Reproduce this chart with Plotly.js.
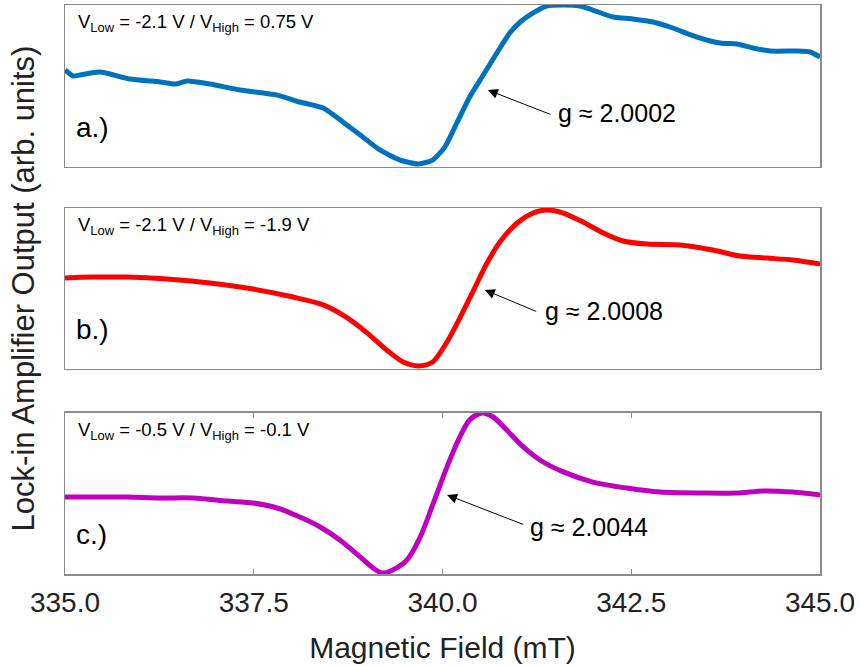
<!DOCTYPE html>
<html>
<head>
<meta charset="utf-8">
<script src="https://cdn.plot.ly/plotly-3.0.1.min.js"></script>
<style>html,body{margin:0;padding:0;background:#fff;}#chart{width:860px;height:666px;}</style>
</head>
<body>
<div id="chart"></div>
<script>
// Magnetic field (mT) and lock-in output (arb. units) for each panel
const fieldA = [335.00,335.11,335.20,335.46,335.86,336.26,336.46,336.62,336.92,337.32,337.81,338.11,338.42,338.68,338.91,339.17,339.44,339.68,339.87,340.03,340.19,340.36,340.54,340.72,340.89,341.03,341.20,341.38,341.60,341.82,341.99,342.26,342.52,342.79,343.05,343.37,343.68,343.90,344.11,344.34,344.70,344.87,345.00];
const signalA = [0.599,0.562,0.568,0.586,0.543,0.525,0.512,0.531,0.512,0.475,0.444,0.401,0.364,0.278,0.198,0.105,0.043,0.019,0.043,0.123,0.272,0.432,0.568,0.704,0.827,0.895,0.951,0.994,1.000,0.994,0.969,0.926,0.914,0.895,0.858,0.802,0.765,0.759,0.735,0.716,0.716,0.710,0.679];

const fieldB = [335.00,335.37,335.82,336.35,336.92,337.49,338.02,338.42,338.74,339.00,339.26,339.48,339.68,339.87,340.06,340.23,340.40,340.59,340.76,340.99,341.20,341.38,341.60,341.86,342.13,342.39,342.71,343.15,343.58,343.94,344.30,344.64,345.00];
const signalB = [0.565,0.571,0.571,0.559,0.534,0.497,0.447,0.398,0.317,0.224,0.118,0.043,0.019,0.043,0.168,0.317,0.478,0.658,0.789,0.907,0.969,0.988,0.969,0.913,0.845,0.795,0.776,0.770,0.739,0.702,0.689,0.677,0.652];

const fieldC = [335.00,335.37,335.82,336.26,336.70,337.15,337.49,337.81,338.11,338.38,338.64,338.91,339.08,339.20,339.34,339.53,339.70,339.87,340.06,340.23,340.36,340.52,340.67,340.85,341.07,341.29,341.60,341.99,342.44,342.88,343.45,343.90,344.25,344.64,345.00];
const signalC = [0.478,0.478,0.478,0.472,0.472,0.453,0.441,0.410,0.354,0.292,0.211,0.106,0.037,0.006,0.025,0.087,0.224,0.429,0.665,0.851,0.957,1.000,0.975,0.894,0.789,0.708,0.634,0.571,0.534,0.509,0.503,0.503,0.516,0.509,0.491];

const tickVals = [335.0, 337.5, 340.0, 342.5, 345.0];
const tickText = ['335.0', '337.5', '340.0', '342.5', '345.0'];
const panelLabels = ['a.)', 'b.)', 'c.)'];
const voltageLabels = [
  'V<sub>Low</sub> = -2.1 V / V<sub>High</sub> = 0.75 V',
  'V<sub>Low</sub> = -2.1 V / V<sub>High</sub> = -1.9 V',
  'V<sub>Low</sub> = -0.5 V / V<sub>High</sub> = -0.1 V'
];
const gLabels = ['g \u2248 2.0002', 'g \u2248 2.0008', 'g \u2248 2.0044'];

const FONT = 'Liberation Sans, Arial, sans-serif';
const frame = '#8a8a8a';

const traces = [
  {x: fieldA, y: signalA, xaxis: 'x2', yaxis: 'y2', mode: 'lines', line: {color: '#0072BD', width: 5, shape: 'spline', smoothing: 0.6}, hoverinfo: 'skip'},
  {x: fieldB, y: signalB, xaxis: 'x3', yaxis: 'y3', mode: 'lines', line: {color: '#FF0000', width: 5, shape: 'spline', smoothing: 0.8}, hoverinfo: 'skip'},
  {x: fieldC, y: signalC, xaxis: 'x', yaxis: 'y', mode: 'lines', line: {color: '#BF00BF', width: 5, shape: 'spline', smoothing: 0.8}, hoverinfo: 'skip'}
];

const hiddenX = {range: [335, 345], showticklabels: false, ticks: '', showline: true, mirror: true, linecolor: frame, linewidth: 1.5, showgrid: false, zeroline: false, fixedrange: true};
const hiddenY = {range: [0, 1], showticklabels: false, ticks: '', showline: true, mirror: true, linecolor: frame, linewidth: 1.5, showgrid: false, zeroline: false, fixedrange: true};

const annotations = [];
const yRefs = ['y2', 'y3', 'y'];
const xRefs = ['x2', 'x3', 'x'];
yRefs.forEach((yr, i) => {
  annotations.push({xref: xRefs[i] + ' domain', yref: yr + ' domain', x: 0.012, y: 0.245, xanchor: 'left', yanchor: 'middle', text: panelLabels[i], showarrow: false, font: {family: FONT, size: 28, color: '#000'}});
  annotations.push({xref: xRefs[i] + ' domain', yref: yr + ' domain', x: 0.015, y: 0.975, xanchor: 'left', yanchor: 'top', text: voltageLabels[i], showarrow: false, font: {family: FONT, size: 18.5, color: '#000'}});
});
// arrows (tip -> tail) and g-value texts
const arrows = [
  {xr: 'x2', yr: 'y2', x: 340.60, y: 0.475, ax: 341.45, ay: 0.321, tx: 341.50, ty: 0.333},
  {xr: 'x3', yr: 'y3', x: 340.56, y: 0.491, ax: 341.26, ay: 0.354, tx: 341.33, ty: 0.360},
  {xr: 'x', yr: 'y', x: 340.06, y: 0.491, ax: 341.09, ay: 0.304, tx: 341.13, ty: 0.292}
];
arrows.forEach((a, i) => {
  annotations.push({xref: a.xr, yref: a.yr, x: a.x, y: a.y, axref: a.xr, ayref: a.yr, ax: a.ax, ay: a.ay, text: '', showarrow: true, arrowhead: 2, arrowsize: 2, arrowwidth: 1, arrowcolor: '#000'});
  annotations.push({xref: a.xr, yref: a.yr, x: a.tx, y: a.ty, xanchor: 'left', yanchor: 'middle', text: gLabels[i], showarrow: false, font: {family: FONT, size: 25, color: '#000'}});
});

const layout = {
  width: 860, height: 666,
  margin: {l: 65, r: 40, t: 5, b: 92},
  paper_bgcolor: '#fff', plot_bgcolor: '#fff',
  showlegend: false,
  font: {family: FONT, color: '#222'},
  xaxis: {domain: [0, 1], anchor: 'y', range: [335, 345], tickvals: tickVals, ticktext: tickText, ticks: 'inside', ticklen: 5, tickwidth: 1, tickcolor: frame, ticklabelstandoff: 3, showline: true, mirror: 'ticks', linecolor: frame, linewidth: 1.5, showgrid: false, zeroline: false, fixedrange: true, tickfont: {family: FONT, size: 28, color: '#222'}, title: {text: 'Magnetic Field (mT)', font: {family: FONT, size: 30, color: '#222'}, standoff: 20}},
  yaxis: Object.assign({}, hiddenY, {domain: [0, 0.2830], anchor: 'x'}),
  xaxis2: Object.assign({}, hiddenX, {anchor: 'y2'}),
  yaxis2: Object.assign({}, hiddenY, {domain: [0.7153, 1], anchor: 'x2'}),
  xaxis3: Object.assign({}, hiddenX, {anchor: 'y3'}),
  yaxis3: Object.assign({}, hiddenY, {domain: [0.3603, 0.6432], anchor: 'x3', title: {text: 'Lock-in Amplifier Output (arb. units)', font: {family: FONT, size: 31, color: '#222'}, standoff: 19}}),
  annotations: annotations
};

Plotly.newPlot('chart', traces, layout, {staticPlot: true, displayModeBar: false});
</script>
</body>
</html>
